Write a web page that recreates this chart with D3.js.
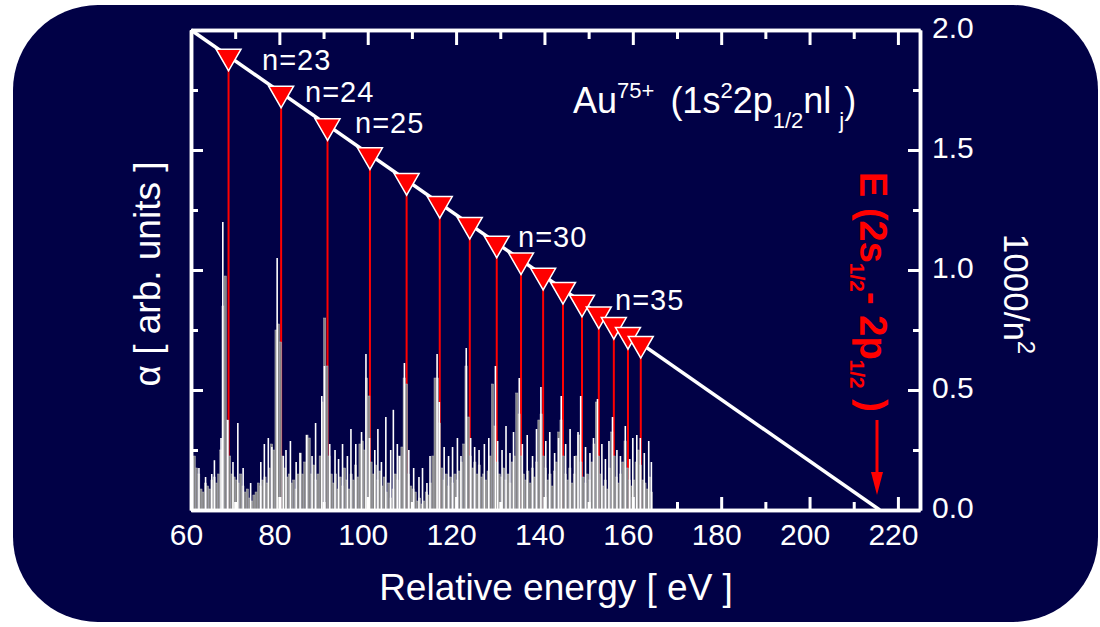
<!DOCTYPE html>
<html>
<head>
<meta charset="utf-8">
<script src="https://cdnjs.cloudflare.com/ajax/libs/d3/7.8.5/d3.min.js"></script>
<style>
  body { margin: 0; background: #fff; }
  text { font-family: "Liberation Sans", Arial, sans-serif; }
</style>
</head>
<body>
<div id="chart"></div>
<script>
// Rydberg levels 1s2 2p1/2 nl_j, n = 23 .. 38
var levelN = [23, 24, 25, 26, 27, 28, 29, 30, 31, 32, 33, 34, 35, 36, 37, 38];
var levelEnergy = [68.5, 80.4, 90.9, 100.5, 108.8, 116.3, 123.1, 129.2, 134.7, 139.7, 144.2, 148.5, 152.3, 155.7, 158.9, 161.8];
var levelInvN2 = [1.890, 1.736, 1.600, 1.479, 1.372, 1.276, 1.189, 1.111, 1.041, 0.977, 0.918, 0.865, 0.816, 0.772, 0.730, 0.693];
var labeledN = [23, 24, 25, 30, 35];

// series limit line (energy, 1000/n^2)
var limitEnergy = [60, 215.9];
var limitInvN2 = [2.0, 0];

// measured spectrum, 0.5 eV bins starting at 60 eV
var binStart = 60, binWidth = 0.5;
var binCounts = [
  0.85, 0.9, 0.7, 0.6, 0.35, 0.3, 0.45, 0.4, 0.35, 0.5, 0.55, 0.45, 0.6, 1.0, 3.4, 3.9, 1.5, 0.9, 0.6, 0.55,
  0.5, 0.45, 0.6, 0.4, 0.3, 0.35, 0.2, 0.15, 0.25, 0.3, 0.45, 0.4, 0.5, 0.55, 0.45, 0.7, 1.1, 1.0, 3.0, 3.1,
  2.8, 0.9, 0.7, 0.55, 0.6, 0.45, 0.5, 0.35, 0.6, 0.95, 0.6, 0.8, 1.25, 1.2, 0.6, 0.75, 0.5, 0.6, 0.9, 1.8,
  3.2, 2.4, 0.9, 0.6, 0.45, 0.6, 0.35, 0.55, 0.4, 0.7, 0.5, 0.35, 0.6, 0.5, 0.75, 0.55, 1.1, 1.15, 1.0, 2.2,
  1.9, 0.8, 0.6, 0.75, 0.5, 0.65, 0.4, 0.55, 0.3, 0.45, 0.2, 0.35, 0.6, 0.5, 0.9, 1.05, 2.2, 2.1, 0.6, 0.4,
  0.35, 0.3, 0.15, 0.2, 0.1, 0.15, 0.3, 0.25, 0.45, 0.9, 2.2, 2.2, 1.45, 0.7, 0.5, 0.6, 0.4, 0.55, 0.45, 0.6,
  0.5, 0.65, 0.8, 1.1, 2.4, 1.55, 0.9, 0.7, 0.8, 0.6, 0.75, 0.55, 0.6, 0.5, 0.65, 0.9, 2.1, 1.4, 0.8, 0.6,
  0.55, 0.7, 0.5, 0.6, 0.45, 0.8, 0.9, 1.95, 1.6, 0.9, 0.6, 0.5, 0.65, 0.45, 0.7, 0.55, 0.8, 1.5, 1.6, 0.9,
  0.7, 0.5, 0.6, 0.4, 0.65, 0.8, 1.3, 1.5, 0.9, 0.6, 0.5, 0.7, 0.45, 0.6, 0.9, 1.25, 0.8, 0.55, 0.45, 0.6,
  0.5, 0.8, 1.1, 1.8, 0.9, 0.6, 0.4, 0.5, 0.35, 0.7, 1.3, 0.9, 0.55, 0.45, 0.6, 0.8, 1.15, 0.7, 0.5, 0.4,
  0.5, 0.8, 1.0, 0.75, 0.5, 0.45, 0.35, 0.55, 0.3
];

// narrow white lines of the second spectrum
var spikeEnergy = [60.3, 61.8, 63.3, 64.7, 65.3, 66.8, 67.2, 68.3, 69.5, 70.6, 71.8, 73.5, 75.8, 76.6, 77.5, 78.3, 79.5, 80.9, 81.5, 82.5,
  83.8, 84.7, 86.2, 87.4, 88.2, 89.6, 90.2, 91.4, 92.6, 93.4, 94.3, 95.4, 96.2, 97.3, 98.6, 99.6, 100.4, 101.6, 102.3, 103.1,
  104.1, 105.2, 105.8, 106.7, 107.2, 108.3, 109.3, 110.4, 111.6, 112.4, 113.4, 114.1, 115.7, 116.2, 117.3, 118.3, 119.2, 120.3, 121.1, 122.3,
  123.3, 124.2, 125.2, 126.4, 127.4, 128.9, 129.4, 130.4, 131.3, 132.2, 133.0, 134.3, 135.0, 136.1, 137.3, 138.2, 139.2, 140.3, 141.2, 142.3,
  143.2, 143.8, 144.8, 145.8, 146.8, 147.6, 148.2, 149.3, 150.3, 151.1, 152.0, 153.0, 153.8, 154.6, 155.4, 156.4, 157.2, 158.3, 159.3, 160.0,
  160.9, 161.7, 162.6, 163.6, 164.2];
var spikeHeight = [0.9, 0.7, 0.55, 0.6, 0.83, 1.2, 4.8, 1.5, 0.8, 1.45, 0.7, 0.45, 0.8, 1.1, 1.2, 1.05, 4.2, 0.9, 1.0, 1.15,
  0.8, 0.95, 1.25, 0.9, 1.45, 1.9, 2.4, 1.1, 1.0, 0.85, 1.1, 0.9, 1.35, 1.1, 1.3, 2.6, 1.2, 1.0, 1.35, 0.8,
  1.55, 1.0, 1.67, 1.1, 0.9, 2.45, 1.0, 0.7, 0.55, 0.7, 0.45, 0.9, 2.6, 1.8, 1.05, 0.9, 1.05, 1.2, 0.9, 2.7,
  1.2, 1.05, 1.0, 1.1, 1.2, 2.4, 1.15, 1.0, 1.4, 0.95, 1.3, 2.2, 1.1, 1.25, 0.9, 1.35, 2.05, 1.15, 1.3, 0.95,
  1.2, 1.9, 1.1, 1.35, 0.9, 1.3, 1.9, 1.05, 0.95, 1.2, 1.85, 1.1, 0.85, 1.15, 1.55, 1.0, 0.9, 1.4, 0.85, 1.2,
  1.25, 1.2, 0.95, 1.15, 0.8];

var xTicks = [60, 80, 100, 120, 140, 160, 180, 200, 220];
var rightTicks = [0, 0.5, 1.0, 1.5, 2.0];

var width = 1100, height = 627;

var svg = d3.select("#chart").append("svg")
  .attr("width", width)
  .attr("height", height);

// dark rounded panel
svg.append("rect")
  .attr("x", 13).attr("y", 5)
  .attr("width", 1085).attr("height", 617)
  .attr("rx", 85).attr("ry", 85)
  .attr("fill", "#010146");

var x = d3.scaleLinear().domain([60, 225]).range([191, 920]);
var yR = d3.scaleLinear().domain([0, 2]).range([510, 30]);
var yL = d3.scaleLinear().domain([0, 8]).range([510, 30]);

// red drop lines under the spectrum
svg.selectAll(".drop")
  .data(levelEnergy)
  .enter().append("line")
  .attr("class", "drop")
  .attr("x1", function(d) { return x(d); })
  .attr("x2", function(d) { return x(d); })
  .attr("y1", function(d, i) { return yR(levelInvN2[i]); })
  .attr("y2", yR(0))
  .attr("stroke", "#ff0000")
  .attr("stroke-width", 2);

// grey histogram
var bw = x(binStart + binWidth) - x(binStart);
svg.selectAll(".bin")
  .data(binCounts)
  .enter().append("rect")
  .attr("class", "bin")
  .attr("x", function(d, i) { return x(binStart + i * binWidth); })
  .attr("width", bw)
  .attr("y", function(d) { return yL(d); })
  .attr("height", function(d) { return yL(0) - yL(d); })
  .attr("fill", "#858585")
  .attr("stroke", "#b0b0bc")
  .attr("stroke-width", 0.5);

// white lines
svg.selectAll(".spike")
  .data(spikeEnergy)
  .enter().append("line")
  .attr("class", "spike")
  .attr("x1", function(d) { return x(d); })
  .attr("x2", function(d) { return x(d); })
  .attr("y1", yL(0))
  .attr("y2", function(d, i) { return yL(spikeHeight[i]); })
  .attr("stroke", "#ffffff")
  .attr("stroke-width", 1.6);

// axes
function styleAxis(g) {
  g.attr("color", "#fff");
  g.selectAll("path").attr("stroke-width", 3.5);
  g.selectAll("line").attr("stroke-width", 3);
  g.selectAll("text").attr("font-size", 30).attr("font-family", "Liberation Sans, Arial, sans-serif");
}

svg.append("g")
  .attr("transform", "translate(0,510)")
  .call(d3.axisBottom(x).tickValues(d3.range(70, 230, 20)).tickSize(-8).tickSizeOuter(0).tickFormat(""))
  .call(styleAxis);
svg.append("g")
  .attr("transform", "translate(0,510)")
  .call(d3.axisBottom(x).tickValues(xTicks).tickSize(-13).tickSizeOuter(0).tickPadding(14))
  .call(styleAxis)
  .selectAll("text").attr("dx", -5);

svg.append("g")
  .attr("transform", "translate(0,30)")
  .call(d3.axisTop(x).tickValues(d3.range(70, 230, 20)).tickSize(-9).tickSizeOuter(0).tickFormat(""))
  .call(styleAxis);
svg.append("g")
  .attr("transform", "translate(0,30)")
  .call(d3.axisTop(x).tickValues(xTicks).tickSize(-15).tickSizeOuter(0).tickFormat(""))
  .call(styleAxis);

svg.append("g")
  .attr("transform", "translate(191,0)")
  .call(d3.axisLeft(yL).tickValues([1, 3, 5, 7]).tickSize(-7).tickSizeOuter(0).tickFormat(""))
  .call(styleAxis);
svg.append("g")
  .attr("transform", "translate(191,0)")
  .call(d3.axisLeft(yL).tickValues([0, 2, 4, 6, 8]).tickSize(-12).tickSizeOuter(0).tickFormat(""))
  .call(styleAxis);

svg.append("g")
  .attr("transform", "translate(920,0)")
  .call(d3.axisRight(yR).tickValues([0.25, 0.75, 1.25, 1.75]).tickSize(-7).tickSizeOuter(0).tickFormat(""))
  .call(styleAxis);
svg.append("g")
  .attr("transform", "translate(920,0)")
  .call(d3.axisRight(yR).tickValues(rightTicks).tickSize(-12).tickSizeOuter(0).tickPadding(12).tickFormat(d3.format(".1f")))
  .call(styleAxis)
  .selectAll("text").attr("dy", "0.25em");

// series limit line
svg.append("line")
  .attr("x1", x(limitEnergy[0])).attr("y1", yR(limitInvN2[0]))
  .attr("x2", x(limitEnergy[1])).attr("y2", yR(limitInvN2[1]))
  .attr("stroke", "#fff")
  .attr("stroke-width", 3.5);

// level markers
svg.selectAll(".level")
  .data(levelEnergy)
  .enter().append("path")
  .attr("class", "level")
  .attr("d", d3.symbol().type(d3.symbolTriangle).size(270))
  .attr("transform", function(d, i) {
    return "translate(" + x(d) + "," + yR(levelInvN2[i]) + ") rotate(180)";
  })
  .attr("fill", "#ff0000")
  .attr("stroke", "#fff")
  .attr("stroke-width", 1.5);

// n labels
var labelPos = { 23: [262, 70], 24: [305, 102], 25: [355, 133], 30: [518, 247], 35: [615, 310] };
labeledN.forEach(function(n) {
  svg.append("text")
    .attr("x", labelPos[n][0]).attr("y", labelPos[n][1])
    .attr("fill", "#fff")
    .attr("font-size", 29)
    .attr("letter-spacing", 1)
    .text("n=" + n);
});

// title
var title = svg.append("text")
  .attr("x", 573).attr("y", 113)
  .attr("fill", "#fff")
  .attr("font-size", 36);
title.append("tspan").text("Au");
title.append("tspan").attr("font-size", 22).attr("dy", -15).text("75+");
title.append("tspan").attr("dx", 16).attr("dy", 15).text("(1s");
title.append("tspan").attr("font-size", 22).attr("dy", -15).text("2");
title.append("tspan").attr("dy", 15).text("2p");
title.append("tspan").attr("font-size", 22).attr("dy", 15).text("1/2");
title.append("tspan").attr("dy", -15).text("nl");
title.append("tspan").attr("font-size", 22).attr("dx", 8).attr("dy", 15).text("j");
title.append("tspan").attr("dy", -15).text(")");

// axis titles
svg.append("text")
  .attr("x", 556).attr("y", 600)
  .attr("text-anchor", "middle")
  .attr("fill", "#fff")
  .attr("font-size", 37)
  .text("Relative energy [ eV ]");

svg.append("text")
  .attr("transform", "translate(160,274) rotate(-90)")
  .attr("text-anchor", "middle")
  .attr("fill", "#fff")
  .attr("font-size", 37)
  .text("\u03b1 [ arb. units ]");

svg.append("text")
  .attr("transform", "translate(1004,294) rotate(90)")
  .attr("text-anchor", "middle")
  .attr("fill", "#fff")
  .attr("font-size", 35)
  .html('1000/n<tspan font-size="24" dy="-14">2</tspan>');

// red annotation for the series limit
var red = svg.append("text")
  .attr("transform", "translate(860,172) rotate(90)")
  .attr("fill", "#ff0000")
  .attr("font-weight", "bold")
  .attr("font-size", 38);
red.append("tspan").text("E (2s");
red.append("tspan").attr("font-size", 21).attr("dy", 10).text("1/2");
red.append("tspan").attr("dy", -10).text("- 2p");
red.append("tspan").attr("font-size", 21).attr("dy", 10).text("1/2");
red.append("tspan").attr("dy", -10).text(" )");

svg.append("line")
  .attr("x1", 877).attr("x2", 877)
  .attr("y1", 420).attr("y2", 476)
  .attr("stroke", "#ff0000")
  .attr("stroke-width", 3);
svg.append("path")
  .attr("d", "M871,472 L883,472 L877,495 Z")
  .attr("fill", "#ff0000");
</script>
</body>
</html>
